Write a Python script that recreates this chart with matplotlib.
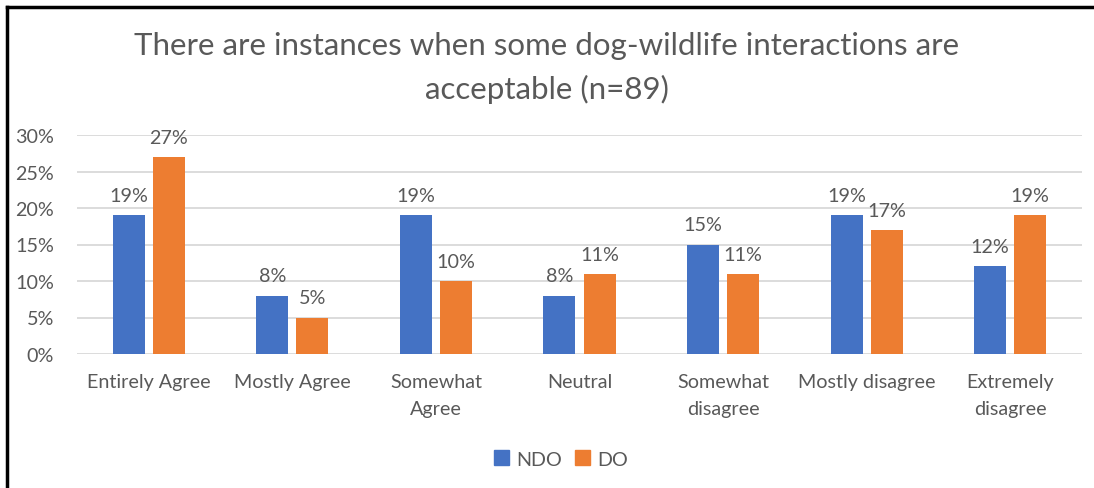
import matplotlib
matplotlib.use("Agg")
import matplotlib.pyplot as plt
import numpy as np
from matplotlib.lines import Line2D
from matplotlib.patches import Patch
from matplotlib.ticker import FuncFormatter, MultipleLocator

categories = ["Entirely Agree", "Mostly Agree", "Somewhat\nAgree", "Neutral",
              "Somewhat\ndisagree", "Mostly disagree", "Extremely\ndisagree"]
ndo = [19, 8, 19, 8, 15, 19, 12]
do = [27, 5, 10, 11, 11, 17, 19]
series_names = ["NDO", "DO"]
title = "There are instances when some dog-wildlife interactions are\nacceptable (n=89)"

plt.rcParams['font.family'] = ['Lato', 'DejaVu Sans']
TXT = "#595959"
BLUE = "#4472C4"
ORANGE = "#ED7D31"

fig = plt.figure(figsize=(10.94, 4.89), dpi=100)
ax = fig.add_axes([77/1094, 1-355/489, (1082-77)/1094, (355-136)/489])

x = np.arange(len(categories))
bw = 0.223
off = (bw + 0.056) / 2
b1 = ax.bar(x - off, ndo, bw, color=BLUE, zorder=3)
b2 = ax.bar(x + off, do, bw, color=ORANGE, zorder=3)

for bars, vals in ((b1, ndo), (b2, do)):
    for r, v in zip(bars, vals):
        ax.annotate(f"{v}%", (r.get_x() + r.get_width()/2, v),
                    xytext=(0, 8), textcoords="offset points",
                    ha="center", va="bottom", fontsize=14.2, color=TXT)

ax.set_xlim(-0.5, len(categories) - 0.5)
ax.set_ylim(0, 30)
ax.yaxis.set_major_locator(MultipleLocator(5))
ax.yaxis.set_major_formatter(FuncFormatter(lambda v, p: f"{int(v)}%"))
ax.grid(axis="y", color="#d9d9d9", linewidth=1.3, zorder=0)
for s in ax.spines.values():
    s.set_visible(False)
ax.tick_params(axis="both", length=0, colors=TXT, labelsize=14.2)
ax.tick_params(axis="x", pad=14)
ax.tick_params(axis="y", pad=16.5)
ax.set_xticks(x)
ax.set_xticklabels(categories, linespacing=1.7)

fig.text(0.5, 1-68/489, title, ha="center", va="center", fontsize=22.5,
         color=TXT, linespacing=1.6)

handles = [Patch(color=BLUE), Patch(color=ORANGE)]
fig.legend(handles, series_names, loc="center", bbox_to_anchor=(561/1094, 1-460/489),
           ncol=2, frameon=False, fontsize=14.2, labelcolor=TXT,
           handlelength=0.75, handleheight=0.75, handletextpad=0.35, columnspacing=0.7)

fig.add_artist(Line2D([7/1094, 7/1094], [0, 1-8/489], color="black", lw=2.5,
                      transform=fig.transFigure))
fig.add_artist(Line2D([7/1094, 1], [1-8/489, 1-8/489], color="black", lw=2.5,
                      transform=fig.transFigure))

fig.savefig("out.png", dpi=100)
